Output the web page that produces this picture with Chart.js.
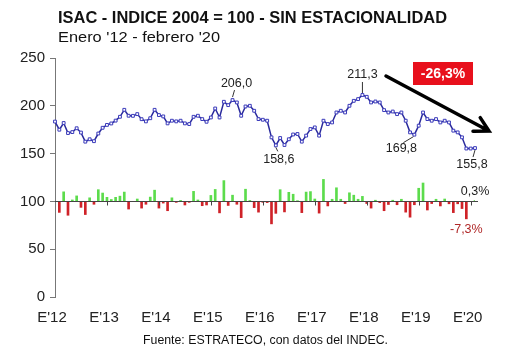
<!DOCTYPE html>
<html>
<head>
<meta charset="utf-8">
<script src="https://cdn.jsdelivr.net/npm/chart.js@4.4.1/dist/chart.umd.min.js"></script>
<style>
body { margin: 0; background: #fff; }
#wrap { width: 530px; height: 358px; }
</style>
</head>
<body>
<div id="wrap"><canvas id="myChart" width="530" height="358"></canvas></div>
<script>
// categorias: enero '12 - febrero '20 (98 meses)
const anios = ['12', '13', '14', '15', '16', '17', '18', '19', '20']
const meses = ['E', 'F', 'M', 'A', 'M', 'J', 'J', 'A', 'S', 'O', 'N', 'D']
const etiquetasX = ["E'12", "E'13", "E'14", "E'15", "E'16", "E'17", "E'18", "E'19", "E'20"]
const ticksY = [0, 50, 100, 150, 200, 250]

const categorias = []
anios.forEach(a => meses.forEach(m => categorias.push(m + "'" + a)))
categorias.splice(98)

// ISAC desestacionalizado (2004 = 100)
const isac = [
  183.5, 175.0, 182.0, 171.5, 172.5, 176.5, 172.0, 162.5, 165.0, 163.0, 171.0, 177.0,
  180.0, 181.5, 184.5, 188.5, 195.8, 189.6, 189.5, 191.3, 186.0, 183.7, 187.0, 195.8,
  190.3, 188.9, 181.6, 184.4, 183.7, 184.4, 181.6, 180.9, 188.5, 189.6, 186.1, 183.3,
  187.8, 197.2, 187.8, 204.2, 200.7, 206.0, 203.5, 189.6, 199.3, 200.0, 194.8, 186.1,
  185.4, 184.4, 167.0, 158.6, 166.3, 159.0, 165.0, 170.0, 170.5, 162.5, 168.8, 175.7,
  177.4, 168.8, 184.4, 180.9, 182.6, 193.0, 194.8, 193.0, 200.0, 205.2, 207.0, 211.3,
  209.4, 203.5, 204.5, 203.5, 195.5, 193.0, 194.0, 191.3, 193.0, 184.4, 172.2, 169.8,
  179.2, 193.0, 186.1, 184.4, 186.1, 182.6, 184.4, 182.6, 174.0, 172.2, 167.0, 155.3,
  155.3, 155.8
]

// variacion mensual % (barras alrededor de 100)
const varMensual = [
  null, -4.6, 4.0, -5.8, 0.6, 2.3, -2.5, -5.5, 1.5, -1.2, 4.9, 3.5,
  1.7, 0.8, 1.7, 2.2, 3.9, -3.2, -0.1, 1.0, -2.8, -1.2, 1.8, 4.7,
  -2.8, -0.7, -3.9, 1.5, -0.4, 0.4, -1.5, -0.4, 4.2, 0.6, -1.8, -1.5,
  2.5, 5.0, -4.8, 8.7, -1.7, 2.6, -1.2, -6.8, 5.1, 0.4, -2.6, -4.5,
  -0.4, -0.5, -9.4, -5.0, 4.9, -4.4, 3.8, 3.0, 0.3, -4.7, 3.9, 4.1,
  1.0, -4.9, 9.2, -1.9, 0.9, 5.7, 0.9, -0.9, 3.6, 2.6, 0.9, 2.1,
  -0.9, -2.8, 0.5, -0.5, -3.9, -1.3, 0.5, -1.4, 0.9, -4.5, -6.6, -1.4,
  5.5, 7.7, -3.6, -0.9, 0.9, -1.9, 1.0, -1.0, -4.7, -1.0, -3.0, -7.3,
  0.0, 0.3
]

const fmt = v => v.toFixed(1).replace('.', ',')

// rotulos de maximos / minimos (indice del mes)
const rotulos = [
  { i: 41, dx: 4, dy: -17, l: [2, -10, 0, -3] },
  { i: 51, dx: 3, dy: 14, l: [0, 2, 2, 6] },
  { i: 71, dx: 0, dy: -20, l: [0, -13, 0, -2] },
  { i: 83, dx: -13, dy: 14, l: [-11, 8, -1, 2] },
  { i: 97, dx: -3, dy: 16, l: [-2, 9, 0, 2] }
]

function textoAncho(ctx, txt, x, y, ancho) {
  const w = ctx.measureText(txt).width
  ctx.save()
  ctx.translate(x, y)
  ctx.scale(ancho / w, 1)
  ctx.textAlign = 'left'
  ctx.fillText(txt, 0, 0)
  ctx.restore()
}

const extras = {
  id: 'extras',
  afterDatasetsDraw(chart) {
    const ctx = chart.ctx
    const xs = chart.scales.x, ys = chart.scales.y
    // linea base 100 con marcas de enero
    const y100 = Math.round(ys.getPixelForValue(100)) + 0.5
    ctx.save()
    ctx.strokeStyle = '#444'
    ctx.lineWidth = 1
    ctx.beginPath()
    ctx.moveTo(chart.chartArea.left, y100)
    ctx.lineTo(chart.chartArea.right + 3, y100)
    for (let i = 12; i < categorias.length; i += 12) {
      const x = Math.round(xs.getPixelForValue(i)) + 0.5
      ctx.moveTo(x, y100)
      ctx.lineTo(x, y100 + 4)
    }
    ctx.stroke()
    ctx.restore()
  },
  afterDraw(chart) {
    const ctx = chart.ctx
    const xs = chart.scales.x, ys = chart.scales.y
    ctx.save()
    ctx.fillStyle = '#111'
    ctx.textBaseline = 'alphabetic'
    ctx.font = 'bold 16px "Liberation Sans", Arial, sans-serif'
    textoAncho(ctx, 'ISAC - INDICE 2004 = 100 - SIN ESTACIONALIDAD', 58, 23, 389)
    ctx.font = '14px "Liberation Sans", Arial, sans-serif'
    textoAncho(ctx, "Enero '12 - febrero '20", 58, 42, 162)
    ctx.font = '12px "Liberation Sans", Arial, sans-serif'
    textoAncho(ctx, 'Fuente: ESTRATECO, con datos del INDEC.', 143, 344, 245)

    // rotulos
    ctx.font = '12.5px "Liberation Sans", Arial, sans-serif'
    ctx.textAlign = 'center'
    ctx.textBaseline = 'middle'
    ctx.strokeStyle = '#333'
    ctx.lineWidth = 1
    rotulos.forEach(r => {
      const x = xs.getPixelForValue(r.i), y = ys.getPixelForValue(isac[r.i])
      ctx.fillStyle = '#222'
      ctx.fillText(fmt(isac[r.i]), x + r.dx, y + r.dy)
      ctx.beginPath()
      ctx.moveTo(x + r.l[0], y + r.l[1])
      ctx.lineTo(x + r.l[2], y + r.l[3])
      ctx.stroke()
    })

    // rotulos de variacion
    const xu = xs.getPixelForValue(97)
    ctx.fillStyle = '#222'
    ctx.fillText(fmt(varMensual[97]) + '%', xu, 192)
    ctx.fillStyle = '#b02828'
    ctx.fillText(fmt(varMensual[95]) + '%', xs.getPixelForValue(95), 230)

    // caja -26,3%
    const caida = (isac[97] / isac[71] - 1) * 100
    ctx.fillStyle = '#e8101c'
    ctx.fillRect(413, 62, 60, 23)
    ctx.fillStyle = '#fff'
    ctx.font = 'bold 14px "Liberation Sans", Arial, sans-serif'
    ctx.fillText(fmt(caida) + '%', 443, 74)

    // flecha
    ctx.strokeStyle = '#000'
    ctx.lineWidth = 3.5
    ctx.lineCap = 'round'
    const x0 = 386, y0 = 76, x1 = 489, y1 = 131
    const ang = Math.atan2(y1 - y0, x1 - x0)
    ctx.beginPath()
    ctx.moveTo(x0, y0)
    ctx.lineTo(x1, y1)
    ctx.moveTo(x1 - 16 * Math.cos(ang - 0.5), y1 - 16 * Math.sin(ang - 0.5))
    ctx.lineTo(x1, y1)
    ctx.lineTo(x1 - 16 * Math.cos(ang + 0.5), y1 - 16 * Math.sin(ang + 0.5))
    ctx.stroke()
    ctx.restore()
  }
}

const ctx = document.getElementById('myChart').getContext('2d')
new Chart(ctx, {
  data: {
    labels: categorias,
    datasets: [{
      type: 'line',
      data: isac,
      yAxisID: 'y',
      borderColor: '#2a2a9c',
      borderWidth: 1.5,
      tension: 0,
      pointStyle: 'rect',
      pointRadius: 2,
      pointBorderWidth: 1,
      pointBorderColor: '#3b3bbb',
      pointBackgroundColor: '#fff',
      order: 1
    }, {
      type: 'bar',
      data: varMensual,
      yAxisID: 'yPct',
      barThickness: 2,
      backgroundColor: varMensual.map(v => v >= 0 ? '#5cdc4c' : '#cf2228'),
      order: 2
    }]
  },
  options: {
    responsive: false,
    animation: false,
    layout: { padding: { left: 0, right: 55, top: 58, bottom: 0 } },
    plugins: { legend: { display: false }, title: { display: false }, tooltip: { enabled: false } },
    scales: {
      x: {
        type: 'category',
        offset: false,
        grid: { display: false },
        border: { display: false },
        ticks: {
          autoSkip: false,
          maxRotation: 0,
          padding: 4,
          labelOffset: -3,
          color: '#222',
          font: { size: 15, family: '"Liberation Sans", Arial, sans-serif' },
          callback: (v, i) => i % 12 === 0 ? etiquetasX[i / 12] : null
        },
        afterFit: s => { s.height = 61 }
      },
      y: {
        min: ticksY[0],
        max: ticksY[ticksY.length - 1],
        afterBuildTicks: s => { s.ticks = ticksY.map(v => ({ value: v })) },
        grid: { drawOnChartArea: false, drawTicks: true, tickLength: 5, color: '#777' },
        border: { display: true, color: '#777', width: 1 },
        ticks: {
          padding: 5,
          color: '#222',
          font: { size: 15, family: '"Liberation Sans", Arial, sans-serif' }
        },
        afterFit: s => { s.width = 55 }
      },
      yPct: {
        display: false,
        position: 'right',
        min: -40,
        max: 60
      }
    }
  },
  plugins: [extras]
})
</script>
</body>
</html>
